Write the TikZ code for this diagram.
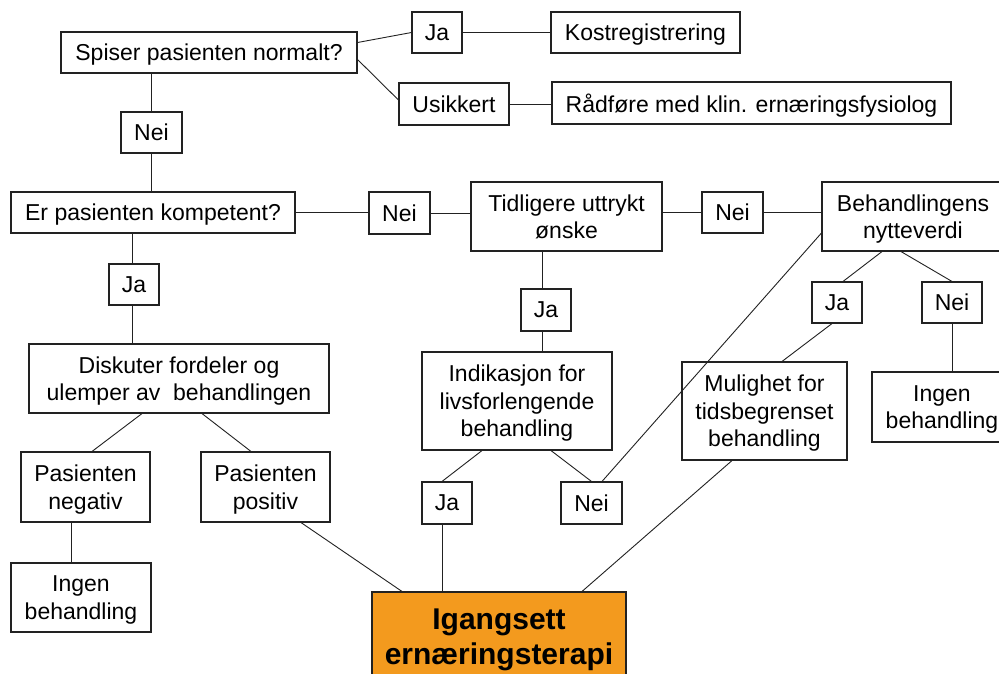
\documentclass[tikz,border=0pt]{standalone}
\usepackage{fontspec}
\setmainfont{Liberation Sans}
\definecolor{boxorange}{HTML}{F39A1E}
\definecolor{linegray}{HTML}{222222}
\begin{document}
\begin{tikzpicture}[x=1pt,y=-1pt,
  box/.style={draw=linegray, line width=1.1pt, rectangle, inner sep=0pt, align=center,
    font=\fontsize{23}{27.6}\selectfont, text=black, text depth=0pt},
  conn/.style={draw=linegray, line width=0.9pt}]
\fill[white] (0,0) rectangle (999,673);
\clip (0,0) rectangle (999,673);

% top part
\node[box, minimum width=296pt, minimum height=41pt] (spiser) at (209,52.5) {Spiser pasienten normalt?};
\node[box, minimum width=50pt, minimum height=41pt] (jaA) at (437,32.5) {Ja};
\node[box, minimum width=189pt, minimum height=41pt] (kost) at (645.5,32.5) {Kostregistrering};
\node[box, minimum width=110pt, minimum height=42pt] (usik) at (454,104) {Usikkert};
\node[box, minimum width=399pt, minimum height=42pt] (raad) at (751.5,103) {Rådføre med klin. ernæringsfysiolog};
\node[box, minimum width=61pt, minimum height=41pt] (neiA) at (151.5,132.5) {Nei};

% middle row
\node[box, minimum width=284pt, minimum height=41pt] (komp) at (153,212.5) {Er pasienten kompetent?};
\node[box, minimum width=61pt, minimum height=42pt] (neiB) at (399.5,213) {Nei};
\node[box, minimum width=191pt, minimum height=69pt] (tidl) at (566.5,216.5) {Tidligere uttrykt\\ønske};
\node[box, minimum width=61pt, minimum height=41pt] (neiC) at (732.5,212.5) {Nei};
\node[box, minimum width=182pt, minimum height=69pt] (beh) at (913,216.5) {Behandlingens\\nytteverdi};

% left branch
\node[box, minimum width=50pt, minimum height=41pt] (jaB) at (134,284.5) {Ja};
\node[box, minimum width=300pt, minimum height=69pt] (disk) at (179,378.5) {Diskuter fordeler og\\ulemper av~ behandlingen};
\node[box, minimum width=129pt, minimum height=70pt] (pneg) at (85.5,487) {Pasienten\\negativ};
\node[box, minimum width=129pt, minimum height=70pt] (ppos) at (265.5,487) {Pasienten\\positiv};
\node[box, minimum width=140pt, minimum height=69pt] (ingL) at (81,597.5) {Ingen\\behandling};

% centre branch
\node[box, minimum width=50pt, minimum height=42pt] (jaC) at (546,310) {Ja};
\node[box, minimum width=190pt, minimum height=98pt] (indik) at (517,401) {Indikasjon for\\livsforlengende\\behandling};
\node[box, minimum width=50pt, minimum height=42pt] (jaD) at (447,503) {Ja};
\node[box, minimum width=61pt, minimum height=42pt] (neiD) at (591.5,503) {Nei};

% right branch
\node[box, minimum width=50pt, minimum height=41pt] (jaE) at (837,302.5) {Ja};
\node[box, minimum width=60pt, minimum height=41pt] (neiE) at (952,302.5) {Nei};
\node[box, minimum width=165pt, minimum height=98pt] (mul) at (764.5,411) {Mulighet for\\tidsbegrenset\\behandling};
\node[box, minimum width=140pt, minimum height=70pt] (ingR) at (942,407) {Ingen\\behandling};

% goal
\node[box, fill=boxorange, minimum width=254pt, minimum height=90pt,
  font=\fontsize{30}{35}\selectfont\bfseries] (igang) at (499,637) {Igangsett\\ernæringsterapi};

% connectors
\draw[conn] ([yshift=10pt]spiser.east) -- (jaA.west);
\draw[conn] (jaA.east) -- (kost.west);
\draw[conn] ([yshift=-7pt]spiser.east) -- ([yshift=4pt]usik.west);
\draw[conn] (usik.east) -- (usik.east -| raad.west);
\draw[conn] (neiA.north |- spiser.south) -- (neiA.north);
\draw[conn] (neiA.south) -- (neiA.south |- komp.north);

\draw[conn] (komp.east) -- (komp.east -| neiB.west);
\draw[conn] (neiB.east) -- (neiB.east -| tidl.west);
\draw[conn] (tidl.east |- neiC.west) -- (neiC.west);
\draw[conn] (neiC.east) -- (neiC.east -| beh.west);

\draw[conn] ([xshift=-2pt]jaB.north |- komp.south) -- ([xshift=-2pt]jaB.north);
\draw[conn] ([xshift=-2pt]jaB.south) -- ([xshift=-2pt]jaB.south |- disk.north);
\draw[conn] ([xshift=-37pt]disk.south) -- ([xshift=6.5pt]pneg.north);
\draw[conn] ([xshift=23pt]disk.south) -- ([xshift=-14.5pt]ppos.north);
\draw[conn] ([xshift=-14.5pt]pneg.south) -- ([xshift=-10pt]ingL.north);
\draw[conn] ([xshift=35.5pt]ppos.south) -- ([xshift=-97pt]igang.north);

\draw[conn] ([xshift=-24.5pt]tidl.south) -- ([xshift=-4pt]jaC.north);
\draw[conn] ([xshift=-4pt]jaC.south) -- ([xshift=25pt]indik.north);
\draw[conn] ([xshift=-35pt]indik.south) -- ([xshift=-5pt]jaD.north);
\draw[conn] ([xshift=-5pt]jaD.south) -- ([xshift=-57pt]igang.north);
\draw[conn] ([xshift=34pt]indik.south) -- (neiD.north);
\draw[conn] ([xshift=10.5pt]neiD.north) -- ([yshift=-16.5pt]beh.west);

\draw[conn] ([xshift=-31pt]beh.south) -- ([xshift=6pt]jaE.north);
\draw[conn] ([xshift=-12pt]beh.south) -- (neiE.north);
\draw[conn] ([xshift=-5pt]jaE.south) -- ([xshift=17.5pt]mul.north);
\draw[conn] (neiE.south) -- ([xshift=10pt]ingR.north);
\draw[conn] ([xshift=-32.5pt]mul.south) -- ([xshift=83pt]igang.north);
\end{tikzpicture}
\end{document}
